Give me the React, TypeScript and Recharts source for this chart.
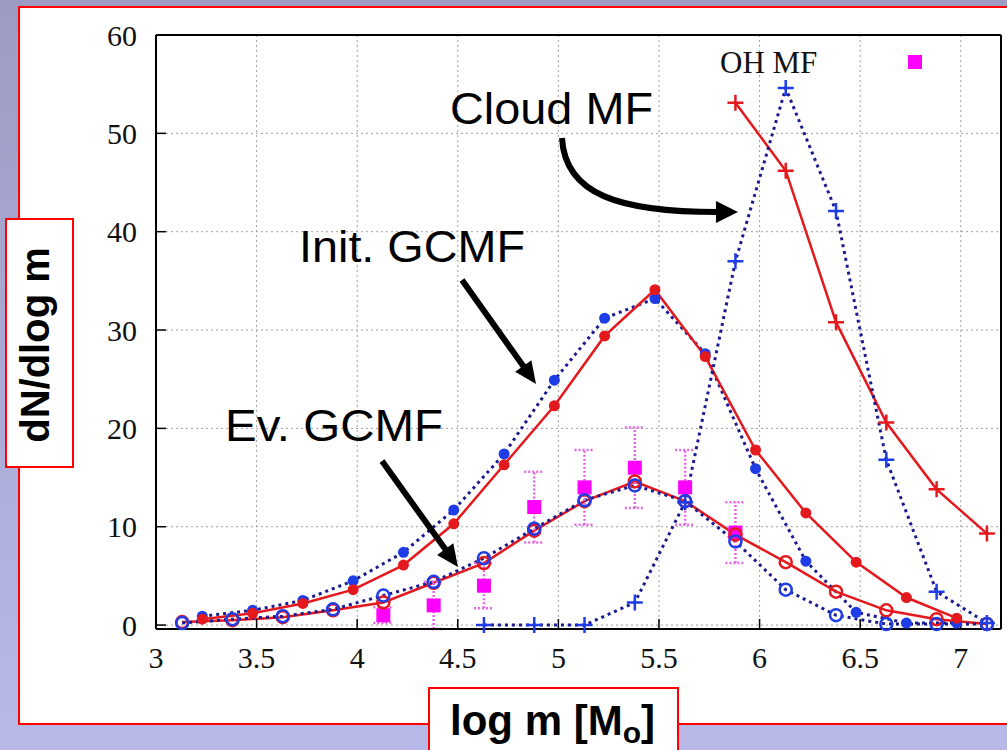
import React from 'react';
import { ComposedChart, Line, Scatter, ErrorBar, XAxis, YAxis, CartesianGrid } from 'recharts';

// bin centres in log m
const binsInit = [3.23, 3.48, 3.73, 3.98, 4.23, 4.48, 4.73, 4.98, 5.23, 5.48, 5.73, 5.98, 6.23, 6.48, 6.73, 6.98];
const binsEv = [3.13, 3.38, 3.63, 3.88, 4.13, 4.38, 4.63, 4.88, 5.13, 5.38, 5.63, 5.88, 6.13, 6.38, 6.63, 6.88, 7.13];
const binsCloudBlue = [4.63, 4.88, 5.13, 5.38, 5.63, 5.88, 6.13, 6.38, 6.63, 6.88, 7.13];
const binsCloudRed = [5.88, 6.13, 6.38, 6.63, 6.88, 7.13];
const binsOH = [4.13, 4.38, 4.63, 4.88, 5.13, 5.38, 5.63, 5.88];

// dN/dlog m
const initRed = [0.6, 1.2, 2.2, 3.6, 6.1, 10.3, 16.3, 22.3, 29.4, 34.1, 27.3, 17.8, 11.4, 6.4, 2.8, 0.7];
const initBlue = [0.9, 1.5, 2.5, 4.5, 7.4, 11.7, 17.4, 24.9, 31.2, 33.2, 27.6, 15.9, 6.5, 1.3, 0.2, 0.2];
const evRed = [0.3, 0.5, 0.8, 1.5, 2.3, 4.3, 6.3, 9.6, 12.6, 14.6, 12.6, 9.2, 6.4, 3.4, 1.5, 0.6, 0.1];
const evBlue = [0.2, 0.6, 0.9, 1.6, 3.0, 4.4, 6.8, 9.8, 12.7, 14.2, 12.6, 8.5, 3.6, 1.0, 0.1, 0.1, 0.1];
const cloudBlue = [0, 0, 0, 2.3, 12.5, 37.0, 54.6, 42.1, 16.8, 3.4, 0.2];
const cloudRed = [53.1, 46.2, 30.8, 20.6, 13.8, 9.3];
const ohVals = [1.0, 2.0, 4.0, 12.0, 14.0, 16.0, 14.0, 9.4];
const ohErr = [0.8, 2.4, 2.3, 3.6, 3.8, 4.1, 3.8, 3.1];

const xMajor = [3, 3.5, 4, 4.5, 5, 5.5, 6, 6.5, 7];
const xMinor = Array.from({ length: 43 }, (_, i) => +(3 + i * 0.1).toFixed(1));
const yMajor = [0, 10, 20, 30, 40, 50, 60];
const yMinor = Array.from({ length: 31 }, (_, i) => i * 2);

const zip = (xs: number[], ys: number[]) => xs.map((x, i) => ({ x, y: ys[i] }));

const RED = '#e4191e';
const BLUE = '#1f3de6';
const NAVY = '#1b1b8f';
const MAGENTA = '#ff00ff';

const filledDot = (color: string) => (p: any) => (
  <circle key={`f${p.index}`} cx={p.cx} cy={p.cy} r={5.5} fill={color} stroke="none" />
);
const openDot = (color: string) => (p: any) => (
  <circle key={`o${p.index}`} cx={p.cx} cy={p.cy} r={6} fill="none" stroke={color} strokeWidth={2.5} />
);
const plusDot = (color: string) => (p: any) => (
  <path key={`p${p.index}`} d={`M${p.cx - 8},${p.cy}H${p.cx + 8}M${p.cx},${p.cy - 8}V${p.cy + 8}`} stroke={color} strokeWidth={2.5} fill="none" />
);
const square = (p: any) => <rect x={p.cx - 7} y={p.cy - 7} width={14} height={14} fill={MAGENTA} />;

const tickFont = { fill: '#111', fontSize: 30, fontFamily: 'Liberation Serif' };
const frame = { stroke: '#000', strokeWidth: 2 };
const tl = { stroke: '#000', strokeWidth: 1.5 };

const arrowHead = (x1: number, y1: number, x2: number, y2: number, len = 22, half = 10) => {
  const dx = x2 - x1, dy = y2 - y1;
  const d = Math.hypot(dx, dy);
  const ux = dx / d, uy = dy / d;
  const bx = x2 - ux * len, by = y2 - uy * len;
  return `${x2},${y2} ${bx - uy * half},${by + ux * half} ${bx + uy * half},${by - ux * half}`;
};

const Arrow = ({ x1, y1, x2, y2 }: { x1: number; y1: number; x2: number; y2: number }) => {
  const d = Math.hypot(x2 - x1, y2 - y1);
  const ex = x2 - ((x2 - x1) / d) * 18, ey = y2 - ((y2 - y1) / d) * 18;
  return (
    <g>
      <line x1={x1} y1={y1} x2={ex} y2={ey} stroke="#000" strokeWidth={6} />
      <polygon points={arrowHead(x1, y1, x2, y2)} fill="#000" />
    </g>
  );
};

export default function App() {
  return (
    <div style={{ position: 'absolute', left: 0, top: 0, width: 1007, height: 750, overflow: 'hidden', background: 'linear-gradient(#9b9bc3, #b9b9e9)' }}>
      <div style={{ position: 'absolute', left: 18, top: 6, width: 1100, height: 719, boxSizing: 'border-box', border: '2px solid #ff0000', background: '#fff' }} />
      <div style={{ position: 'absolute', left: 0, top: 0 }}>
        <ComposedChart width={1007} height={750} margin={{ top: 33, right: 4, bottom: 119, left: 154 }}>
          <CartesianGrid stroke="#a0a0a0" strokeDasharray="2 3" strokeWidth={1} />
          <XAxis xAxisId={0} dataKey="x" type="number" domain={[3, 7.2]} ticks={xMajor} height={1}
            tickSize={-10} tickMargin={28} tick={tickFont} axisLine={frame} tickLine={tl} />
          <XAxis xAxisId="bm" type="number" domain={[3, 7.2]} allowDataOverflow ticks={xMinor} height={1}
            tickSize={-6} tick={false} axisLine={false} tickLine={tl} />
          <XAxis xAxisId="tM" orientation="top" type="number" domain={[3, 7.2]} allowDataOverflow ticks={xMajor} height={1}
            tickSize={-10} tick={false} axisLine={frame} tickLine={tl} />
          <XAxis xAxisId="tm" orientation="top" type="number" domain={[3, 7.2]} allowDataOverflow ticks={xMinor} height={1}
            tickSize={-6} tick={false} axisLine={false} tickLine={tl} />
          <YAxis yAxisId={0} type="number" domain={[0, 60]} ticks={yMajor} width={1}
            tickSize={-10} tickMargin={29} tick={tickFont} axisLine={frame} tickLine={tl} />
          <YAxis yAxisId="lm" type="number" domain={[0, 60]} allowDataOverflow ticks={yMinor} width={1}
            tickSize={-6} tick={false} axisLine={false} tickLine={tl} />
          <YAxis yAxisId="rM" orientation="right" type="number" domain={[0, 60]} allowDataOverflow ticks={yMajor} width={1}
            tickSize={-10} tick={false} axisLine={frame} tickLine={tl} />
          <YAxis yAxisId="rm" orientation="right" type="number" domain={[0, 60]} allowDataOverflow ticks={yMinor} width={1}
            tickSize={-6} tick={false} axisLine={false} tickLine={tl} />

          <Line name="Init. GCMF (blue)" data={zip(binsInit, initBlue)} dataKey="y" stroke={NAVY} strokeWidth={3} strokeDasharray="3 4"
            dot={filledDot(BLUE)} activeDot={false} isAnimationActive={false} />
          <Line name="Init. GCMF (red)" data={zip(binsInit, initRed)} dataKey="y" stroke={RED} strokeWidth={2.5}
            dot={filledDot(RED)} activeDot={false} isAnimationActive={false} />
          <Line name="Ev. GCMF (red)" data={zip(binsEv, evRed)} dataKey="y" stroke={RED} strokeWidth={2.5}
            dot={openDot(RED)} activeDot={false} isAnimationActive={false} />
          <Line name="Ev. GCMF (blue)" data={zip(binsEv, evBlue)} dataKey="y" stroke={NAVY} strokeWidth={3} strokeDasharray="3 4"
            dot={openDot(BLUE)} activeDot={false} isAnimationActive={false} />
          <Line name="Cloud MF (red)" data={zip(binsCloudRed, cloudRed)} dataKey="y" stroke={RED} strokeWidth={2.5}
            dot={plusDot(RED)} activeDot={false} isAnimationActive={false} />
          <Line name="Cloud MF (blue)" data={zip(binsCloudBlue, cloudBlue)} dataKey="y" stroke={NAVY} strokeWidth={3} strokeDasharray="3 4"
            dot={plusDot(BLUE)} activeDot={false} isAnimationActive={false} />
          <Scatter name="OH MF" data={binsOH.map((x, i) => ({ x, y: ohVals[i], err: ohErr[i] }))} dataKey="y" shape={square} isAnimationActive={false}>
            <ErrorBar dataKey="err" direction="y" width={10} stroke="#e466e4" strokeWidth={2.5} strokeDasharray="2 2" />
          </Scatter>
        </ComposedChart>
      </div>
      <svg width={1007} height={750} style={{ position: 'absolute', left: 0, top: 0, pointerEvents: 'none' }}>
        <text x={720} y={73} fontFamily="Liberation Serif" fontSize={31} fill="#111">OH MF</text>
        <rect x={908} y={55} width={14} height={14} fill={MAGENTA} />

        <g fontFamily="Liberation Sans" fontSize={44} fill="#000">
          <text x={450} y={124} textLength={203} lengthAdjust="spacingAndGlyphs">Cloud MF</text>
          <text x={299} y={262} textLength={226} lengthAdjust="spacingAndGlyphs">Init. GCMF</text>
          <text x={225} y={441} textLength={218} lengthAdjust="spacingAndGlyphs">Ev. GCMF</text>
        </g>
        <Arrow x1={462} y1={280} x2={536} y2={384} />
        <Arrow x1={382} y1={461} x2={458} y2={567} />
        <path d="M562,138 C565,195 620,212 718,212" stroke="#000" strokeWidth={6} fill="none" />
        <polygon points="738,212 716,201 716,223" fill="#000" />

        <rect x={6} y={219} width={67} height={248} fill="#fff" stroke="#ff0000" strokeWidth={2} />
        <text x={49} y={345} transform="rotate(-90 49 345)" textAnchor="middle" fontFamily="Liberation Sans" fontWeight="bold" fontSize={40} fill="#000">dN/dlog m</text>

        <rect x={429} y={688} width={249} height={80} fill="#fff" stroke="#ff0000" strokeWidth={2} />
        <text x={450} y={735} fontFamily="Liberation Sans" fontWeight="bold" fontSize={42} fill="#000">
          log m [M<tspan fontSize={30} dy={8}>o</tspan><tspan dy={-8}>]</tspan>
        </text>
      </svg>
    </div>
  );
}
